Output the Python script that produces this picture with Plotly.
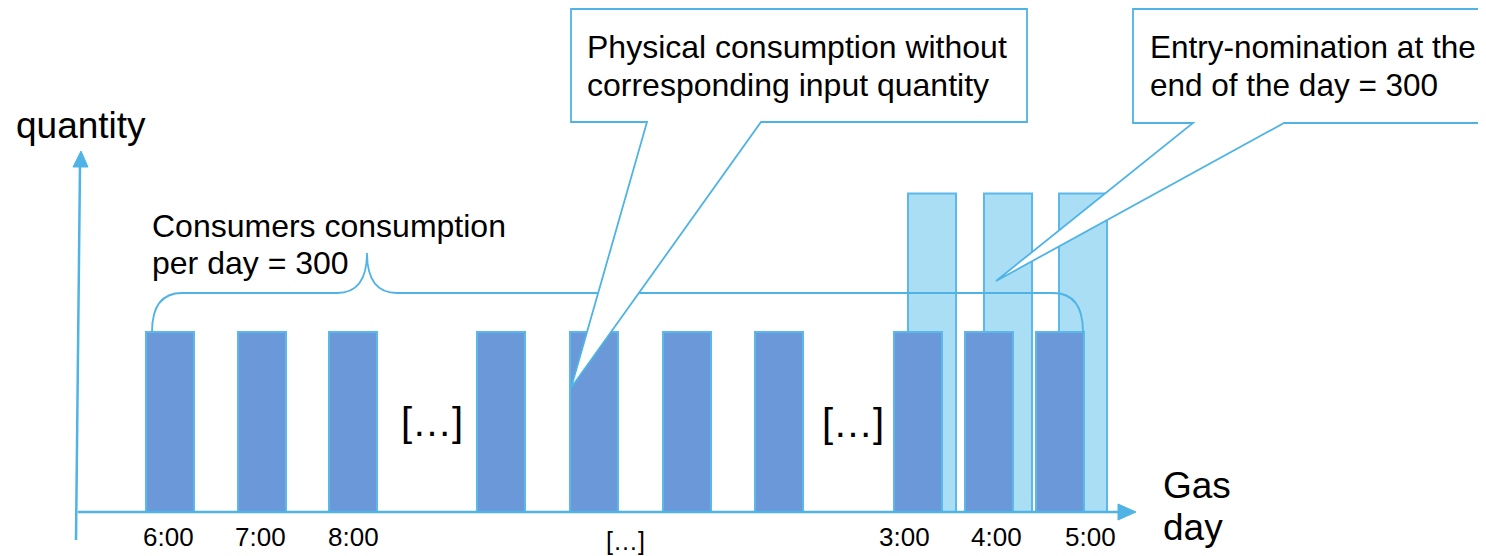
import plotly.graph_objects as go

# ---- data ----
hour_labels = ["6:00", "7:00", "8:00", "[…]", "3:00", "4:00", "5:00"]
label_pos = [168, 260, 353, 625, 904, 996, 1090]

consumption_x = [170, 262, 353, 501, 594, 687, 779, 918, 989, 1060]
consumption_q = [100, 100, 100, 100, 100, 100, 100, 100, 100, 100]

nomination_x = [932, 1008, 1083]
nomination_q = [177, 177, 177]

# ---- pixel helpers (y axis: 0 at baseline pixel 512, 1.8 px per unit) ----
BASE_PX = 512
PX_PER_UNIT = 1.8
W, H = 1486, 556
OFF = 8  # page body margin


def Q(py):
    return (BASE_PX - py) / PX_PER_UNIT


AX = "#4FB3E6"
DARK = "#6A98D8"
LIGHT = "#A9DEF5"
EDGE = "#5BB8E8"
FONT = "Liberation Sans, Arial, sans-serif"

fig = go.Figure()
fig.add_trace(go.Bar(x=nomination_x, y=nomination_q, width=48,
                     marker=dict(color=LIGHT, line=dict(color=EDGE, width=2)),
                     hoverinfo="skip"))
fig.add_trace(go.Bar(x=consumption_x, y=consumption_q, width=48,
                     marker=dict(color=DARK, line=dict(color=EDGE, width=2)),
                     hoverinfo="skip"))


def path(segs, close=False):
    s = ""
    for cmd, pts in segs:
        s += cmd + " " + " ".join(f"{x},{Q(y):.3f}" for x, y in pts) + " "
    if close:
        s += "Z"
    return s


def poly(points):
    segs = [("M", [points[0]])] + [("L", [p]) for p in points[1:]]
    return path(segs, True)


shapes = []
# axes
shapes.append(dict(type="line", x0=78, y0=Q(512), x1=1120, y1=Q(512),
                   line=dict(color=AX, width=2.5)))
shapes.append(dict(type="path", path=poly([(1118, 504), (1136, 512), (1118, 520)]),
                   fillcolor=AX, line=dict(color=AX, width=1)))
shapes.append(dict(type="line", x0=76, y0=Q(540), x1=80, y1=Q(165),
                   line=dict(color=AX, width=2.5)))
shapes.append(dict(type="path", path=poly([(73, 167), (81, 151), (88, 167)]),
                   fillcolor=AX, line=dict(color=AX, width=1)))

# brace
brace = path([
    ("M", [(152, 332)]),
    ("Q", [(152, 293), (182, 293)]),
    ("L", [(337, 293)]),
    ("Q", [(367, 293), (367, 253)]),
    ("Q", [(367, 293), (397, 293)]),
    ("L", [(1053, 293)]),
    ("Q", [(1083, 293), (1083, 332)]),
])
shapes.append(dict(type="path", path=brace, line=dict(color=AX, width=1.8)))

# callouts
c1 = poly([(571, 9), (1027, 9), (1027, 122), (761, 122), (571, 388), (647, 122), (571, 122)])
shapes.append(dict(type="path", path=c1, fillcolor="white", line=dict(color=AX, width=1.8)))
c2 = poly([(1133, 9), (1700, 9), (1700, 123), (1284, 123), (996, 281), (1193, 123), (1133, 123)])
shapes.append(dict(type="path", path=c2, fillcolor="white", line=dict(color=AX, width=1.8)))

ann = []


def text(t, x, y, size, anchor="left"):
    ann.append(dict(text=t, x=x, y=Q(y), xref="x", yref="y", showarrow=False,
                    xanchor=anchor, yanchor="middle",
                    font=dict(family=FONT, size=size, color="black")))


for lab, px in zip(hour_labels, label_pos):
    if lab == "[…]":
        text(lab, px, 541, 25, "center")
    else:
        text(lab, px, 537, 26, "center")

text("quantity", 14, 125, 37)
text("Gas", 1161, 485, 37)
text("day", 1161, 527, 37)
text("Consumers consumption", 150, 226, 32)
text("per day = 300", 150, 263, 32)
text("Physical consumption without", 585, 47, 32)
text("corresponding input quantity", 585, 85, 32)
text("Entry-nomination at the", 1148, 47, 31.5)
text("end of the day = 300", 1148, 85, 31.5)
text("[…]", 432, 422, 40, "center")
text("[…]", 853, 423, 40, "center")

fig.update_layout(
    width=W - OFF, height=H - OFF, margin=dict(l=0, r=0, t=0, b=0),
    paper_bgcolor="white", plot_bgcolor="white",
    barmode="overlay", showlegend=False,
    xaxis=dict(range=[OFF, W], visible=False, fixedrange=True),
    yaxis=dict(range=[Q(H), Q(OFF)], visible=False, fixedrange=True),
    shapes=shapes, annotations=ann,
)
fig.write_html("out.html")
